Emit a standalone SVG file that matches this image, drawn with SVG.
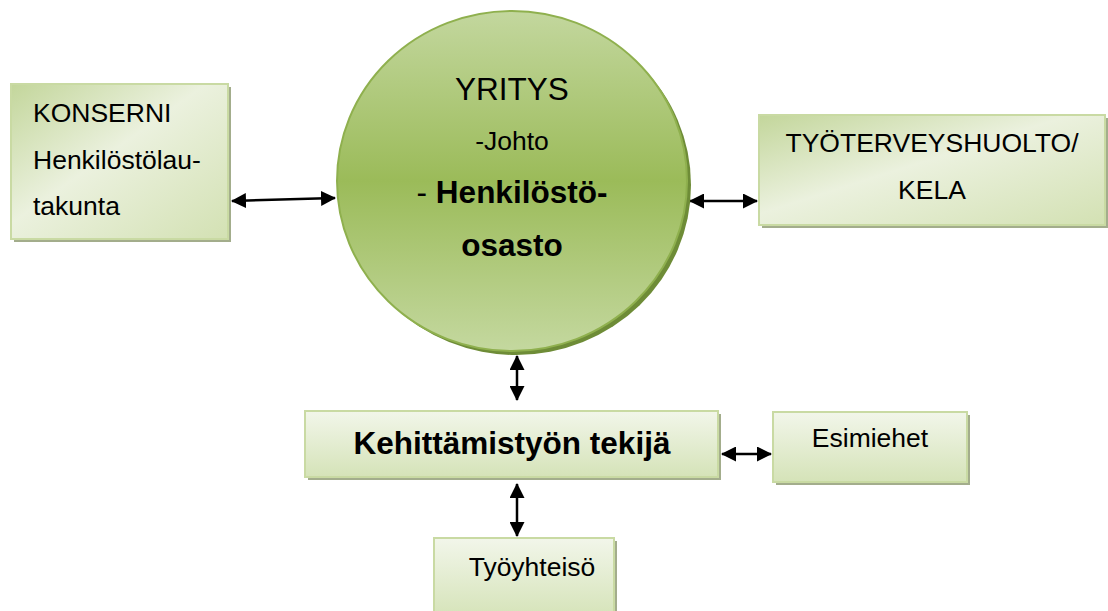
<svg xmlns="http://www.w3.org/2000/svg" width="1108" height="611" viewBox="0 0 1108 611">
<style>
.box{fill:url(#boxg);stroke:#c9daa3;stroke-width:2}
.shd{fill:#a3ad8c}
.t{font-family:"Liberation Sans",Arial,sans-serif;font-size:26.5px;fill:#000}
.b{font-weight:bold;font-size:31.5px}
.big{font-size:31.5px}
.c{stroke:#000;stroke-width:2.5;fill:none;marker-start:url(#ah);marker-end:url(#ah)}
</style>
<defs>
<linearGradient id="boxg" x1="0" y1="0" x2="1" y2="1">
<stop offset="0" stop-color="#c3d69b"/>
<stop offset="0.45" stop-color="#ebf1de"/>
<stop offset="1" stop-color="#d3e1b3"/>
</linearGradient>
<linearGradient id="boxv" x1="0" y1="0" x2="0" y2="1">
<stop offset="0" stop-color="#f2f6ea"/>
<stop offset="1" stop-color="#d5e3b8"/>
</linearGradient>
<linearGradient id="circg" x1="0" y1="0" x2="0" y2="1">
<stop offset="0" stop-color="#c3d79e"/>
<stop offset="0.5" stop-color="#9bbb59"/>
<stop offset="1" stop-color="#c4d89f"/>
</linearGradient>
<marker id="ah" markerUnits="userSpaceOnUse" markerWidth="15" markerHeight="15" refX="14" refY="7.5" orient="auto-start-reverse">
<path d="M0,0 L15,7.5 L0,15 Z" fill="#000"/>
</marker>
</defs>

<g id="connectors">
<line class="c" x1="232" y1="201" x2="335" y2="198"/>
<line class="c" x1="690" y1="201" x2="757" y2="201"/>
<line class="c" x1="517" y1="356" x2="517" y2="400"/>
<line class="c" x1="722" y1="454" x2="771" y2="454"/>
<line class="c" x1="517" y1="484" x2="517" y2="536"/>
</g>

<g id="yritys">
<ellipse cx="516" cy="185" rx="175" ry="170" fill="#6e8c37"/>
<ellipse cx="512" cy="181" rx="175" ry="170" fill="url(#circg)" stroke="#8fb04e" stroke-width="2"/>
<text class="t big" x="512" y="100" text-anchor="middle">YRITYS</text>
<text class="t" x="512" y="150" text-anchor="middle">-Johto</text>
<text class="t b" x="512" y="203" text-anchor="middle"><tspan font-weight="normal">- </tspan>Henkilöstö-</text>
<text class="t b" x="512" y="256" text-anchor="middle">osasto</text>
</g>

<g id="konserni">
<rect class="shd" x="14" y="87" width="217" height="155"/>
<rect class="box" x="11" y="84" width="217" height="155"/>
<text class="t" x="33" y="122">KONSERNI</text>
<text class="t" x="33" y="169">Henkilöstölau-</text>
<text class="t" x="33" y="215">takunta</text>
</g>

<g id="tyoterveyshuolto">
<rect class="shd" x="762" y="118" width="346" height="110"/>
<rect class="box" x="759" y="115" width="346" height="110"/>
<text class="t" x="932" y="152" text-anchor="middle">TYÖTERVEYSHUOLTO/</text>
<text class="t" x="932" y="199" text-anchor="middle">KELA</text>
</g>

<g id="kehittamistyon">
<rect class="shd" x="308" y="414" width="413" height="66"/>
<rect class="box" x="305" y="411" width="413" height="66" style="fill:url(#boxv)"/>
<text class="t b" x="512" y="454" text-anchor="middle">Kehittämistyön tekijä</text>
</g>

<g id="esimiehet">
<rect class="shd" x="776" y="415" width="194" height="70"/>
<rect class="box" x="773" y="412" width="194" height="70" style="fill:url(#boxv)"/>
<text class="t" x="870" y="447" text-anchor="middle">Esimiehet</text>
</g>

<g id="tyoyhteiso">
<rect class="shd" x="437" y="541" width="180" height="80"/>
<rect class="box" x="434" y="538" width="180" height="80" style="fill:url(#boxv)"/>
<text class="t" x="532" y="576" text-anchor="middle">Työyhteisö</text>
</g>
</svg>
